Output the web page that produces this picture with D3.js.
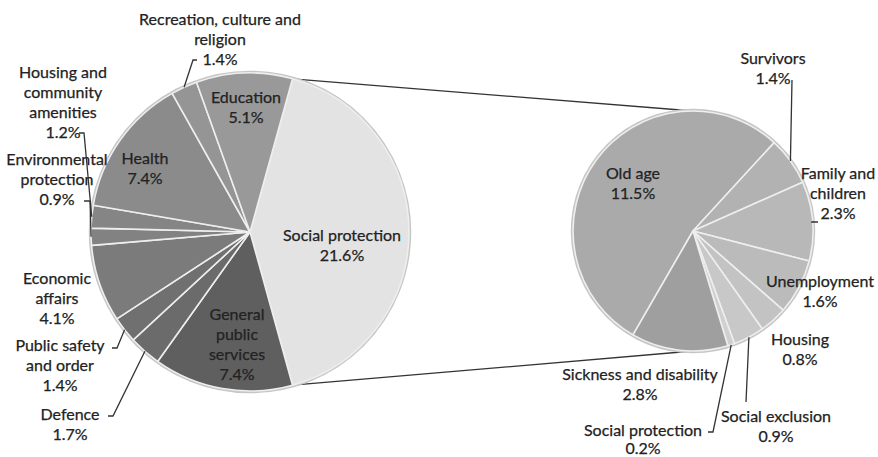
<!DOCTYPE html>
<html>
<head>
<meta charset="utf-8">
<script src="https://cdn.jsdelivr.net/npm/d3@7/dist/d3.min.js"></script>
<style>
  html, body { margin: 0; padding: 0; background: #ffffff; }
  svg { display: block; }
  text { font-family: Lato, "Open Sans", sans-serif; font-size: 16px; fill: #222222;
         stroke: #222222; stroke-width: 0.25px; }
</style>
</head>
<body>
<svg id="chart" width="878" height="457"></svg>
<script>
// Government expenditure by function (% of GDP), with social protection broken down
const mainCategories = [
  "Social protection", "General public services", "Defence", "Public safety and order",
  "Economic affairs", "Environmental protection", "Housing and community amenities",
  "Health", "Recreation, culture and religion", "Education"
];
const mainValues = [21.6, 7.4, 1.7, 1.4, 4.1, 0.9, 1.2, 7.4, 1.4, 5.1];
const mainLabelLines = [
  ["Social protection"], ["General", "public", "services"], ["Defence"], ["Public safety", "and order"],
  ["Economic", "affairs"], ["Environmental", "protection"], ["Housing and", "community", "amenities"],
  ["Health"], ["Recreation, culture and", "religion"], ["Education"]
];
const mainColors = ["#e3e3e3", "#5f5f5f", "#6b6b6b", "#707070", "#7b7b7b", "#828282", "#858585",
                    "#8b8b8b", "#959595", "#999999"];

const subCategories = [
  "Old age", "Survivors", "Family and children", "Unemployment", "Housing",
  "Social exclusion", "Social protection", "Sickness and disability"
];
const subValues = [11.5, 1.4, 2.3, 1.6, 0.8, 0.9, 0.2, 2.8];
const subLabelLines = [
  ["Old age"], ["Survivors"], ["Family and", "children"], ["Unemployment"], ["Housing"],
  ["Social exclusion"], ["Social protection"], ["Sickness and disability"]
];
const subColors = ["#aaaaaa", "#b2b2b2", "#b8b8b8", "#bbbbbb", "#c3c3c3", "#c8c8c8", "#d0d0d0", "#9f9f9f"];

const svg = d3.select("#chart");
const deg = Math.PI / 180;
const fmt = v => v.toFixed(1) + "%";

// Pie geometry
const main = { cx: 250, cy: 232, r: 159 };
const sub = { cx: 693, cy: 231, r: 120 };

// Social protection slice is centred on the right-hand side of the main pie
const mainTotal = d3.sum(mainValues);
const spSpan = mainValues[0] / mainTotal * 2 * Math.PI;
const mainStart = Math.PI / 2 - spSpan / 2;
const mainPie = d3.pie().sort(null).startAngle(mainStart).endAngle(mainStart + 2 * Math.PI);
const mainArcs = mainPie(mainValues);

const subStart = 210 * deg;
const subPie = d3.pie().sort(null).startAngle(subStart).endAngle(subStart + 2 * Math.PI);
const subArcs = subPie(subValues);

function polar(p, angle, radius) {
  return [p.cx + radius * Math.sin(angle), p.cy - radius * Math.cos(angle)];
}

// Connector lines between the social protection slice and the breakdown pie
const spArc = mainArcs[0];
const connectors = [
  [polar(main, spArc.startAngle, main.r), polar(sub, 0, sub.r)],
  [polar(main, spArc.endAngle, main.r), polar(sub, Math.PI, sub.r)]
];
svg.append("g").selectAll("line").data(connectors).join("line")
  .attr("x1", d => d[0][0]).attr("y1", d => d[0][1])
  .attr("x2", d => d[1][0]).attr("y2", d => d[1][1])
  .attr("stroke", "#333").attr("stroke-width", 1.3);

function drawPie(p, arcs, colors) {
  const g = svg.append("g").attr("transform", `translate(${p.cx},${p.cy})`);
  g.append("circle").attr("r", p.r + 1).attr("fill", "none")
    .attr("stroke", "#c6c6c6").attr("stroke-width", 2.5);
  const arc = d3.arc().innerRadius(0).outerRadius(p.r);
  g.selectAll("path").data(arcs).join("path")
    .attr("d", arc)
    .attr("fill", (d, i) => colors[i])
    .attr("stroke", "#eeeeee").attr("stroke-width", 1.6).attr("stroke-linejoin", "round");
}
drawPie(main, mainArcs, mainColors);
drawPie(sub, subArcs, subColors);

// Label placement: text block centre (x, first line y), line spacing and optional leader start/elbow
const mainLayout = {
  "Social protection":               { x: 342, y: 234 },
  "General public services":         { x: 237, y: 313 },
  "Defence":                         { x: 70,  y: 413, leader: [[108, 416], [113, 416]] },
  "Public safety and order":         { x: 60,  y: 344, leader: [[112, 348], [117, 348]] },
  "Economic affairs":                { x: 57,  y: 277 },
  "Environmental protection":        { x: 57,  y: 158, leader: [[84, 201], [90, 201]] },
  "Housing and community amenities": { x: 63,  y: 71,  leader: [[79, 133], [84, 133]] },
  "Health":                          { x: 145, y: 157 },
  "Recreation, culture and religion":{ x: 220, y: 18,  leader: [[197, 60], [193, 60]] },
  "Education":                       { x: 246, y: 96 }
};
const subLayout = {
  "Old age":                 { x: 633, y: 172 },
  "Survivors":               { x: 773, y: 57,  leader: [[792, 80], [792, 80]] },
  "Family and children":     { x: 838, y: 172, leader: [[818, 222], [812, 222]] },
  "Unemployment":            { x: 820, y: 280 },
  "Housing":                 { x: 800, y: 338 },
  "Social exclusion":        { x: 776, y: 415, leader: [[746, 402], [746, 402]] },
  "Social protection":       { x: 643, y: 429, lineH: 18, leader: [[708, 432], [713, 432]] },
  "Sickness and disability": { x: 640, y: 373 }
};

function drawLabels(p, arcs, names, lines, values, layout) {
  const leaders = [];
  const g = svg.append("g");
  arcs.forEach((a, i) => {
    const L = layout[names[i]];
    const lineH = L.lineH || 20;
    const rows = lines[i].concat([fmt(values[i])]);
    const t = g.append("text").attr("text-anchor", "middle");
    rows.forEach((row, k) => {
      t.append("tspan").attr("x", L.x).attr("y", L.y + k * lineH)
        .attr("dominant-baseline", "central").text(row);
    });
    if (L.leader) {
      const mid = (a.startAngle + a.endAngle) / 2;
      leaders.push(L.leader.concat([polar(p, mid, p.r)]));
    }
  });
  svg.append("g").selectAll("path").data(leaders).join("path")
    .attr("d", d3.line())
    .attr("fill", "none").attr("stroke", "#333").attr("stroke-width", 1.3);
}
drawLabels(main, mainArcs, mainCategories, mainLabelLines, mainValues, mainLayout);
drawLabels(sub, subArcs, subCategories, subLabelLines, subValues, subLayout);
</script>
</body>
</html>
